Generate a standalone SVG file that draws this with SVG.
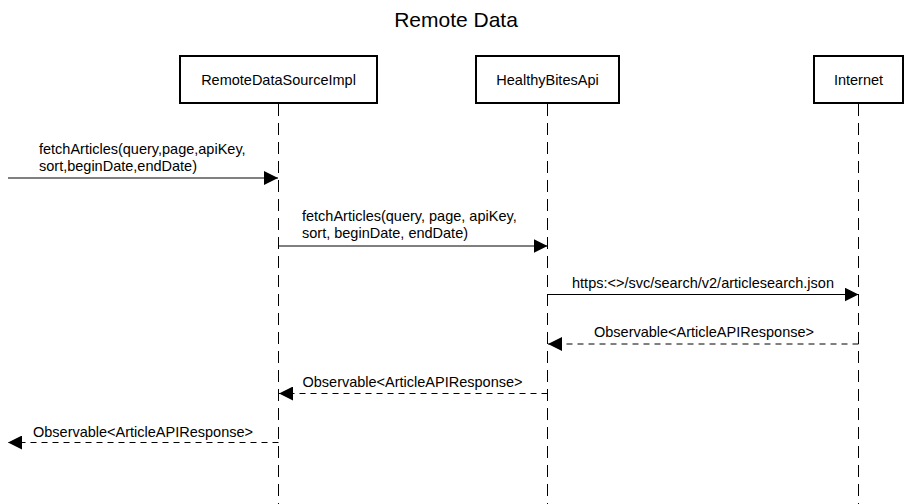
<svg xmlns="http://www.w3.org/2000/svg" width="912" height="504" viewBox="0 0 912 504">
  <style>
    .box { fill: #ffffff; stroke: #000000; stroke-width: 2; }
    .life { stroke: #000000; stroke-width: 1; stroke-dasharray: 12 7; fill: none; }
    .msg { stroke: #000000; stroke-width: 1; fill: none; marker-end: url(#arrow); }
    .ret { stroke: #000000; stroke-width: 1; fill: none; stroke-dasharray: 6 5; marker-end: url(#arrow); }
    text { font-family: "Liberation Sans", Arial, Helvetica, sans-serif; fill: #000000; }
    .lbl { font-size: 14.5px; }
    .mid { text-anchor: middle; }
    .title { font-size: 21px; text-anchor: middle; }
  </style>
  <defs>
    <marker id="arrow" viewBox="0 0 14 14" refX="14" refY="7" markerWidth="14" markerHeight="14" markerUnits="userSpaceOnUse" orient="auto">
      <path d="M0,0 L14,7 L0,14 Z" fill="#000000"/>
    </marker>
  </defs>
  <rect width="912" height="504" fill="#ffffff"/>
  <text class="title" x="456" y="27">Remote Data</text>

  <g id="lifelines">
    <line class="life" x1="278.5" y1="104" x2="278.5" y2="504"/>
    <line class="life" x1="547.5" y1="104" x2="547.5" y2="504"/>
    <line class="life" x1="858.5" y1="104" x2="858.5" y2="504"/>
  </g>

  <g id="node-remote">
    <rect class="box" x="180" y="56" width="197" height="47"/>
    <text class="lbl mid" x="278.5" y="85">RemoteDataSourceImpl</text>
  </g>
  <g id="node-api">
    <rect class="box" x="476" y="56" width="143" height="47"/>
    <text class="lbl mid" x="547.5" y="85">HealthyBitesApi</text>
  </g>
  <g id="node-internet">
    <rect class="box" x="814" y="56" width="89" height="47"/>
    <text class="lbl mid" x="858.5" y="85">Internet</text>
  </g>

  <g id="connectors">
    <line class="msg" x1="8" y1="178" x2="278" y2="178"/>
    <text class="lbl" x="39" y="153.5">fetchArticles(query,page,apiKey,</text>
    <text class="lbl" x="39" y="170.5">sort,beginDate,endDate)</text>

    <line class="msg" x1="278.5" y1="246" x2="547.5" y2="246"/>
    <text class="lbl" x="302" y="220.5">fetchArticles(query, page, apiKey,</text>
    <text class="lbl" x="302" y="237.5">sort, beginDate, endDate)</text>

    <line class="msg" x1="547.5" y1="294.5" x2="858.5" y2="294.5"/>
    <text class="lbl mid" x="703" y="288">https:&lt;&gt;/svc/search/v2/articlesearch.json</text>

    <line class="ret" x1="858.5" y1="344" x2="548" y2="344"/>
    <text class="lbl mid" x="704" y="337">Observable&lt;ArticleAPIResponse&gt;</text>

    <line class="ret" x1="547.5" y1="393.5" x2="279" y2="393.5"/>
    <text class="lbl mid" x="412.5" y="386.5">Observable&lt;ArticleAPIResponse&gt;</text>

    <line class="ret" x1="278.5" y1="442.5" x2="8" y2="442.5"/>
    <text class="lbl mid" x="143" y="436.5">Observable&lt;ArticleAPIResponse&gt;</text>
  </g>
</svg>
